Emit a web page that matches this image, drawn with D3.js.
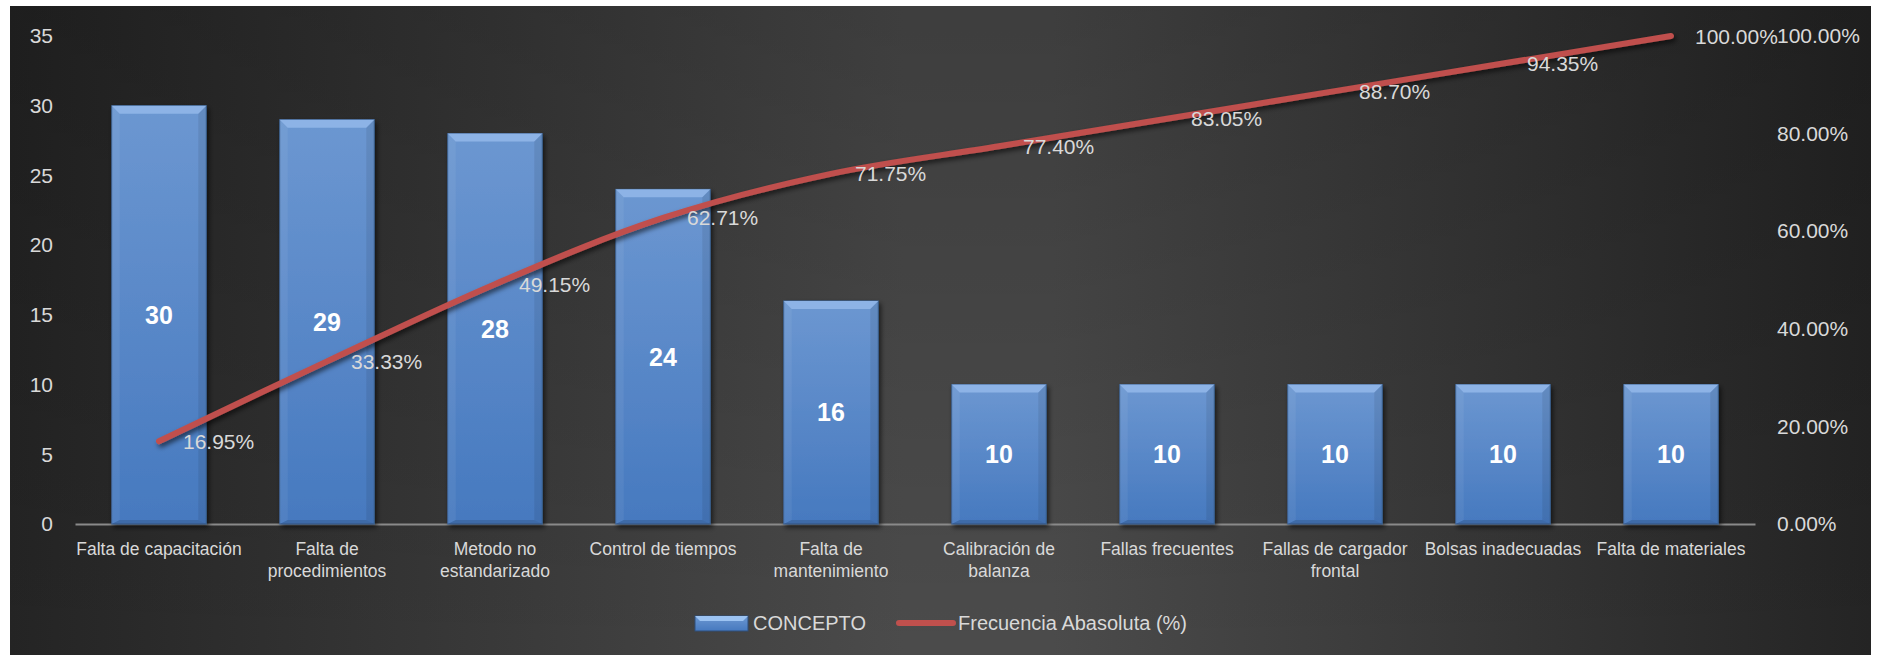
<!DOCTYPE html>
<html>
<head>
<meta charset="utf-8">
<script src="https://cdn.jsdelivr.net/npm/d3@7"></script>
<style>
  body { margin: 0; background: #ffffff; }
  text { font-family: "Liberation Sans", Arial, sans-serif; }
</style>
</head>
<body>
<div id="pareto"></div>
<script>
// datos del diagrama de pareto
const categorias = [
  "Falta de capacitación", "Falta de\nprocedimientos", "Metodo no\nestandarizado",
  "Control de tiempos", "Falta de\nmantenimiento", "Calibración de\nbalanza",
  "Fallas frecuentes", "Fallas de cargador\nfrontal", "Bolsas inadecuadas", "Falta de materiales"
];
const conceptos = [30, 29, 28, 24, 16, 10, 10, 10, 10, 10];
const frecuenciaAcum = [16.95, 33.33, 49.15, 62.71, 71.75, 77.40, 83.05, 88.70, 94.35, 100];
const ticksIzq = [0, 5, 10, 15, 20, 25, 30, 35];
const ticksDer = [0, 20, 40, 60, 80, 100];
const series = ["CONCEPTO", "Frecuencia Abasoluta (%)"];

const width = 1878, height = 659;
const margen = {izq: 75, der: 1755, sup: 36, inf: 524};

const svg = d3.select("#pareto")
  .append("svg")
  .attr("width", width)
  .attr("height", height);

const defs = svg.append("defs");

// fondo oscuro con degradado
const fondo = defs.append("linearGradient").attr("id", "fondo");
fondo.append("stop").attr("offset", "0%").attr("stop-color", "#242424");
fondo.append("stop").attr("offset", "48%").attr("stop-color", "#4b4b4b");
fondo.append("stop").attr("offset", "56%").attr("stop-color", "#4b4b4b");
fondo.append("stop").attr("offset", "100%").attr("stop-color", "#242424");

const vert = defs.append("linearGradient").attr("id", "sombraV")
  .attr("x1", 0).attr("y1", 0).attr("x2", 0).attr("y2", 1);
vert.append("stop").attr("offset", "0%").attr("stop-color", "#000").attr("stop-opacity", 0.18);
vert.append("stop").attr("offset", "100%").attr("stop-color", "#000").attr("stop-opacity", 0);

const barra = defs.append("linearGradient").attr("id", "barra")
  .attr("x1", 0).attr("y1", 0).attr("x2", 0).attr("y2", 1);
barra.append("stop").attr("offset", "0%").attr("stop-color", "#6c97d1");
barra.append("stop").attr("offset", "100%").attr("stop-color", "#4679bf");

const sombra = defs.append("filter").attr("id", "sombra")
  .attr("x", "-20%").attr("y", "-20%").attr("width", "140%").attr("height", "140%");
sombra.append("feDropShadow")
  .attr("dx", 2).attr("dy", 3).attr("stdDeviation", 2.5)
  .attr("flood-color", "#000").attr("flood-opacity", 0.6);

svg.append("rect")
  .attr("x", 10).attr("y", 6)
  .attr("width", 1861).attr("height", 649)
  .attr("fill", "url(#fondo)");
svg.append("rect")
  .attr("x", 10).attr("y", 6)
  .attr("width", 1861).attr("height", 649)
  .attr("fill", "url(#sombraV)");

// escalas
const x = d3.scaleBand()
  .domain(categorias)
  .range([margen.izq, margen.der])
  .paddingInner(0.437)
  .paddingOuter(0.2185);

const y = d3.scaleLinear()
  .domain([0, 35])
  .range([margen.inf, margen.sup]);

const y2 = d3.scaleLinear()
  .domain([0, 100])
  .range([margen.inf, margen.sup]);

// ejes
const ejeIzq = svg.append("g")
  .attr("transform", `translate(${margen.izq},0)`)
  .call(d3.axisLeft(y).tickValues(ticksIzq).tickSize(0).tickPadding(22));

const ejeDer = svg.append("g")
  .attr("transform", `translate(${margen.der},0)`)
  .call(d3.axisRight(y2).tickValues(ticksDer).tickSize(0).tickPadding(22)
    .tickFormat(d => d.toFixed(2) + "%"));

[ejeIzq, ejeDer].forEach(g => {
  g.select(".domain").remove();
  g.selectAll("text")
    .attr("fill", "#d9d9d9")
    .style("font-size", "21px");
});

const ejeX = svg.append("g")
  .attr("transform", `translate(0,${margen.inf})`)
  .call(d3.axisBottom(x).tickSize(0).tickPadding(19));

ejeX.select(".domain")
  .attr("stroke", "#8a8a8a")
  .attr("stroke-width", 2);

ejeX.selectAll("text")
  .attr("fill", "#d9d9d9")
  .style("font-size", "17.5px")
  .each(function(d) {
    const t = d3.select(this);
    const lineas = d.split("\n");
    t.text(null);
    lineas.forEach((l, i) => {
      t.append("tspan")
        .attr("x", 0)
        .attr("dy", i === 0 ? "0.71em" : "21.5px")
        .text(l);
    });
  });

// barras con bisel
const bev = 8;
const grupos = svg.selectAll(".barra")
  .data(conceptos)
  .enter()
  .append("g")
  .attr("class", "barra");

grupos.append("rect")
  .attr("x", (d, i) => x(categorias[i]))
  .attr("y", d => y(d))
  .attr("width", x.bandwidth())
  .attr("height", d => y(0) - y(d))
  .attr("fill", "url(#barra)")
  .attr("stroke", "#3b5f8e")
  .attr("stroke-width", 1)
  .attr("filter", "url(#sombra)");

grupos.append("path")
  .attr("d", (d, i) => {
    const x0 = x(categorias[i]), x1 = x0 + x.bandwidth(), y0 = y(d);
    return `M${x0},${y0}L${x1},${y0}L${x1 - bev},${y0 + bev}L${x0 + bev},${y0 + bev}Z`;
  })
  .attr("fill", "#8db3e6");

grupos.append("path")
  .attr("d", (d, i) => {
    const x0 = x(categorias[i]), y0 = y(d), y1 = y(0);
    return `M${x0},${y0}L${x0 + bev},${y0 + bev}L${x0 + bev},${y1 - 4}L${x0},${y1}Z`;
  })
  .attr("fill", "#ffffff").attr("opacity", 0.06);

grupos.append("path")
  .attr("d", (d, i) => {
    const x1 = x(categorias[i]) + x.bandwidth(), y0 = y(d), y1 = y(0);
    return `M${x1},${y0}L${x1 - bev},${y0 + bev}L${x1 - bev},${y1 - 4}L${x1},${y1}Z`;
  })
  .attr("fill", "#000000").attr("opacity", 0.08);

grupos.append("path")
  .attr("d", (d, i) => {
    const x0 = x(categorias[i]), x1 = x0 + x.bandwidth(), y1 = y(0);
    return `M${x0},${y1}L${x0 + bev},${y1 - 4}L${x1 - bev},${y1 - 4}L${x1},${y1}Z`;
  })
  .attr("fill", "#000000").attr("opacity", 0.12);

grupos.append("text")
  .attr("x", (d, i) => x(categorias[i]) + x.bandwidth() / 2)
  .attr("y", d => (y(d) + y(0)) / 2)
  .attr("text-anchor", "middle")
  .attr("dominant-baseline", "central")
  .attr("fill", "#ffffff")
  .style("font-size", "25px")
  .style("font-weight", "bold")
  .text(d => d);

// linea acumulada
const linea = d3.line()
  .x((d, i) => x(categorias[i]) + x.bandwidth() / 2)
  .y(d => y2(d))
  .curve(d3.curveCatmullRom.alpha(0.5));

svg.append("path")
  .datum(frecuenciaAcum)
  .attr("d", linea)
  .attr("fill", "none")
  .attr("stroke", "#c0504d")
  .attr("stroke-width", 6)
  .attr("stroke-linecap", "round")
  .attr("stroke-linejoin", "round")
  .attr("filter", "url(#sombra)");

svg.selectAll(".etiqueta")
  .data(frecuenciaAcum)
  .enter()
  .append("text")
  .attr("class", "etiqueta")
  .attr("x", (d, i) => x(categorias[i]) + x.bandwidth() / 2 + 24)
  .attr("y", d => y2(d))
  .attr("dominant-baseline", "central")
  .attr("fill", "#d9d9d9")
  .style("font-size", "21px")
  .text(d => d.toFixed(2) + "%");

// leyenda
const leyenda = svg.append("g");

const sw = leyenda.append("g");
sw.append("rect")
  .attr("x", 695).attr("y", 616)
  .attr("width", 53).attr("height", 15)
  .attr("fill", "url(#barra)")
  .attr("stroke", "#2f4f7a");
sw.append("path")
  .attr("d", "M695,616L748,616L743,621L700,621Z")
  .attr("fill", "#9cc3f2");

leyenda.append("text")
  .attr("x", 753).attr("y", 623)
  .attr("dominant-baseline", "central")
  .attr("fill", "#d9d9d9")
  .style("font-size", "20px")
  .text(series[0]);

leyenda.append("line")
  .attr("x1", 899).attr("x2", 953)
  .attr("y1", 623).attr("y2", 623)
  .attr("stroke", "#c0504d")
  .attr("stroke-width", 6)
  .attr("stroke-linecap", "round");

leyenda.append("text")
  .attr("x", 958).attr("y", 623)
  .attr("dominant-baseline", "central")
  .attr("fill", "#d9d9d9")
  .style("font-size", "20px")
  .text(series[1]);
</script>
</body>
</html>
